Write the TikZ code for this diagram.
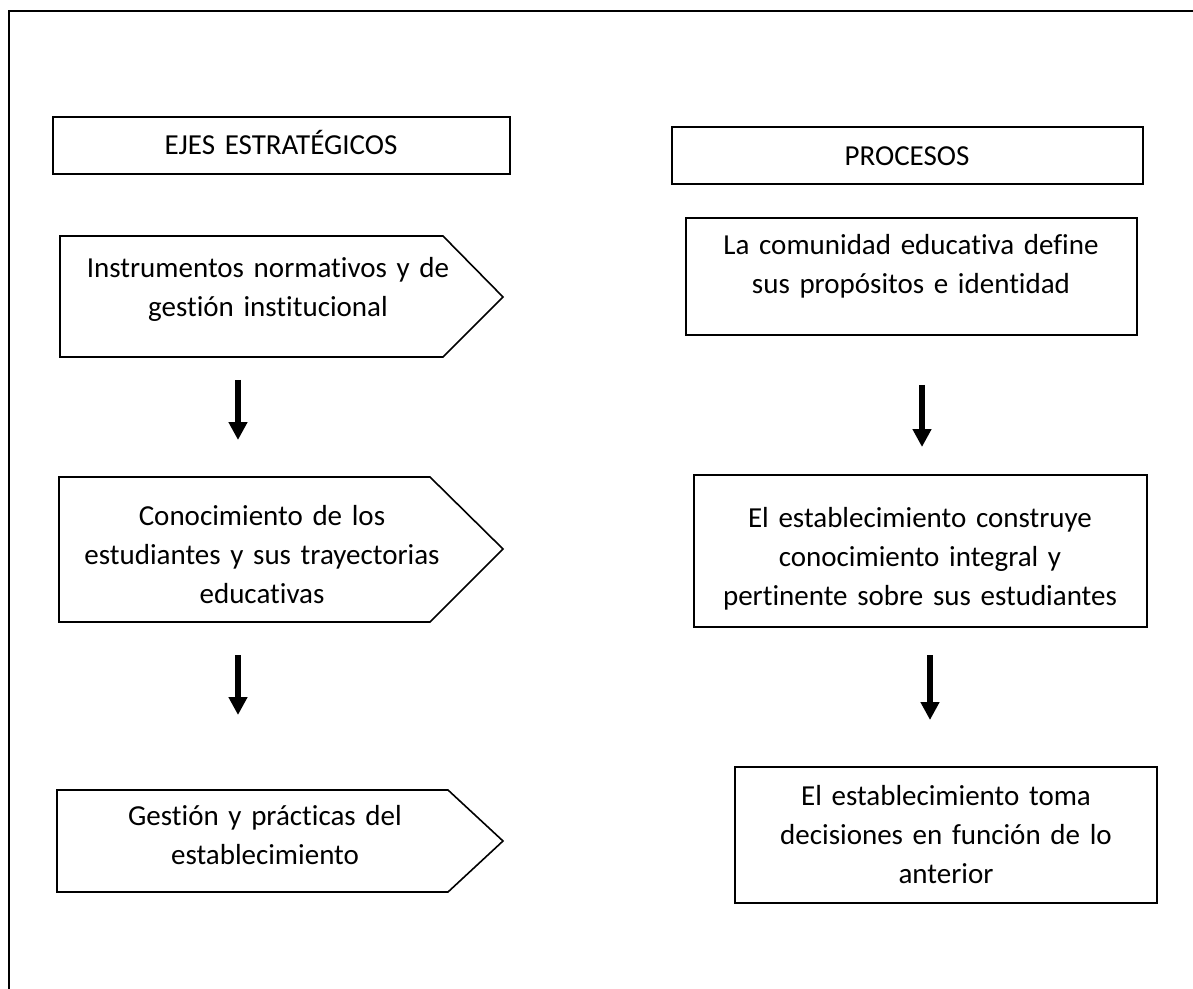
\documentclass[tikz,border=0pt]{standalone}
\usepackage{fontspec}
\setmainfont{Carlito}[Ligatures=NoCommon, WordSpace=0.85]
\usepackage{tikz}
\usetikzlibrary{arrows.meta,positioning}

\begin{document}
\begin{tikzpicture}[x=0.5pt,y=-0.5pt,
    box/.style={draw, line width=0.8pt},
    txt/.style={anchor=base, text width=240pt, align=center, inner sep=0pt,
      font=\fontsize{14.5}{19.5}\selectfont},
    down/.style={line width=3pt, -{Triangle[width=9pt,length=9pt]}}]
    \useasboundingbox (0,0) rectangle (1193,989);
    % outer frame (cut at right and bottom)
    \draw[line width=0.8pt] (9,989) -- (9,11) -- (1193,11);

    % left column
    \draw[box] (53,117) rectangle (510,174);
    \node[txt] (ejes) at (281,155) {EJES ESTRATÉGICOS};

    \draw[box] (60,236) -- (443,236) -- (503,297) -- (443,357) -- (60,357) -- cycle;
    \node[txt] (instr) at (268,278) {Instrumentos normativos y de\\gestión institucional};

    \draw[box] (59,477) -- (430,477) -- (503,549) -- (430,622) -- (59,622) -- cycle;
    \node[txt] (conoc) at (262,525) {Conocimiento de los\\estudiantes y sus trayectorias\\educativas};

    \draw[box] (57,790) -- (448,790) -- (503,841) -- (448,892) -- (57,892) -- cycle;
    \node[txt] (gestion) at (265,825) {Gestión y prácticas del\\establecimiento};

    \coordinate (l1a) at (238,380);
    \coordinate (l1b) at (238,440);
    \coordinate (l2a) at (238,655);
    \coordinate (l2b) at (238,715);
    \draw[down] (l1a) -- (l1b);
    \draw[down] (l2a) -- (l2b);

    % right column
    \draw[box] (672,127) rectangle (1143,184);
    \node[txt] (proc) at (907,166) {PROCESOS};

    \draw[box] (686,218) rectangle (1137,335);
    \node[txt] (define) at (911,255) {La comunidad educativa define\\sus propósitos e identidad};

    \draw[box] (694,475) rectangle (1147,627);
    \node[txt] (construye) at (920,527) {El establecimiento construye\\conocimiento integral y\\pertinente sobre sus estudiantes};

    \draw[box] (735,767) rectangle (1157,903);
    \node[txt] (decide) at (946,805) {El establecimiento toma\\decisiones en función de lo\\anterior};

    \coordinate (r1a) at (922,385);
    \coordinate (r1b) at (922,447);
    \coordinate (r2a) at (930,655);
    \coordinate (r2b) at (930,720);
    \draw[down] (r1a) -- (r1b);
    \draw[down] (r2a) -- (r2b);
\end{tikzpicture}
\end{document}
